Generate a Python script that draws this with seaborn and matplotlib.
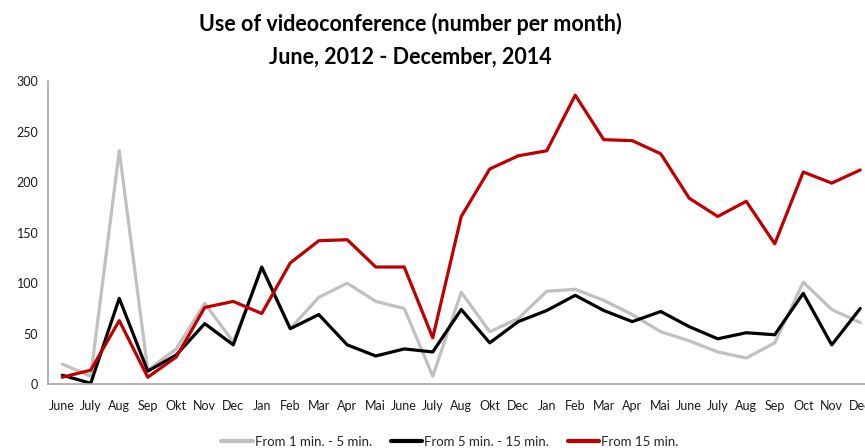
import matplotlib
matplotlib.use("Agg")
import matplotlib.pyplot as plt
import seaborn as sns
import pandas as pd
import numpy as np

months = ["June", "July", "Aug", "Sep", "Okt", "Nov", "Dec", "Jan", "Feb", "Mar",
          "Apr", "Mai", "June", "July", "Aug", "Okt", "Dec", "Jan", "Feb", "Mar",
          "Apr", "Mai", "June", "July", "Aug", "Sep", "Oct", "Nov", "Dec"]

short_calls = [20, 8, 231, 14, 35, 80, 42, 115, 55, 86, 100, 82, 75, 8, 91,
               52, 65, 92, 94, 83, 69, 52, 43, 32, 26, 41, 101, 74, 61]
medium_calls = [9, 1, 85, 13, 29, 60, 39, 116, 55, 69, 39, 28, 35, 32, 74,
                41, 62, 73, 88, 73, 62, 72, 57, 45, 51, 49, 90, 39, 75]
long_calls = [7, 14, 63, 7, 27, 76, 82, 70, 120, 142, 143, 116, 116, 46, 166,
              213, 226, 231, 286, 242, 241, 228, 184, 166, 181, 139, 210, 199, 212]

series_names = ["From 1 min. - 5 min.", "From 5 min. - 15 min.", "From 15 min."]
series_colors = ["#c0c0c0", "#000000", "#c00000"]

idx = np.arange(len(months))
df = pd.concat([
    pd.DataFrame({"idx": idx, "value": vals, "series": name})
    for name, vals in zip(series_names, [short_calls, medium_calls, long_calls])
], ignore_index=True)

sns.set_style("white")
plt.rcParams["font.family"] = ["Lato", "DejaVu Sans"]

fig = plt.figure(figsize=(8.65, 4.48), dpi=100)
ax = fig.add_axes([48 / 865, (448 - 384.3) / 448, 826.5 / 865, 303.3 / 448])

sns.lineplot(data=df, x="idx", y="value", hue="series", hue_order=series_names,
             palette=dict(zip(series_names, series_colors)), linewidth=2.3,
             ax=ax, legend=False, sort=False)

ax.set_xlim(-0.5, len(months) - 0.5)
ax.set_ylim(0, 300)
ax.set_yticks(range(0, 301, 50))
ax.set_xticks(idx)
ax.set_xticklabels(months)
ax.set_xticks(np.arange(-0.5, len(months), 1.0), minor=True)
ax.tick_params(axis="x", which="major", length=0, pad=11, labelsize=9, labelcolor="#1a1a1a")
ax.tick_params(axis="x", which="minor", length=4, width=1, color="#a6a6a6", direction="out")
ax.tick_params(axis="y", length=4, width=1, color="#a6a6a6", direction="out",
               labelsize=9, labelcolor="#1a1a1a", pad=3)
ax.set_xlabel("")
ax.set_ylabel("")
for side in ["top", "right"]:
    ax.spines[side].set_visible(False)
for side in ["left", "bottom"]:
    ax.spines[side].set_color("#a6a6a6")
    ax.spines[side].set_linewidth(1.2)
ax.grid(False)

fig.text(410 / 865, 1 - 24 / 448, "Use of videoconference (number per month)",
         ha="center", va="center", fontsize=15.5, fontweight="bold", color="black")
fig.text(410 / 865, 1 - 57 / 448, "June, 2012 - December, 2014",
         ha="center", va="center", fontsize=15.5, fontweight="bold", color="black")

handles = [plt.Line2D([], [], color=c, linewidth=3) for c in series_colors]
fig.legend(handles, series_names, loc="center", bbox_to_anchor=(450 / 865, 6 / 448),
           ncol=3, frameon=False, fontsize=9.5, handlelength=2.4, handletextpad=0.15,
           columnspacing=1.4)

fig.savefig("out.png", dpi=100)
